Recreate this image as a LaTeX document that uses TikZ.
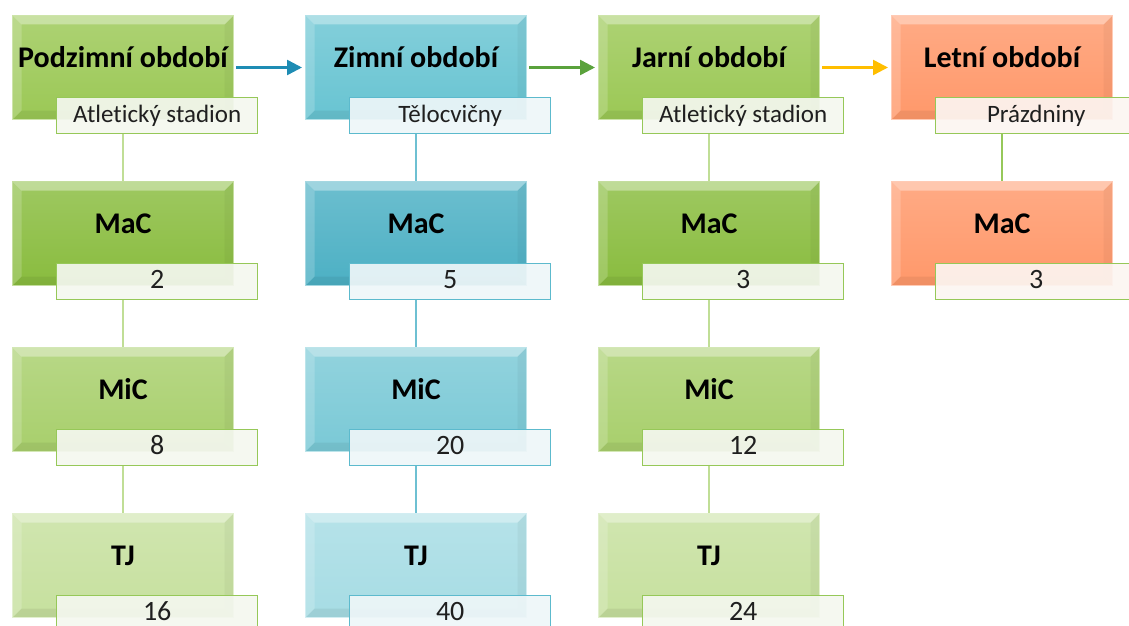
\documentclass[tikz,border=0pt]{standalone}
\usepackage{fontspec}
\setmainfont{Carlito}[Ligatures=NoCommon]
\usetikzlibrary{arrows.meta,calc}
\pgfdeclarelayer{bg}
\pgfsetlayers{bg,main}
\definecolor{g0}{RGB}{155,200,85}
\definecolor{g1}{RGB}{137,188,62}
\definecolor{g2}{RGB}{168,207,108}
\definecolor{g3}{RGB}{198,224,158}
\definecolor{b0}{RGB}{104,196,210}
\definecolor{b1}{RGB}{76,176,196}
\definecolor{b2}{RGB}{122,201,214}
\definecolor{b3}{RGB}{166,220,228}
\definecolor{o0}{RGB}{255,152,106}
\definecolor{gline}{RGB}{192,222,150}
\definecolor{gline2}{RGB}{150,200,90}
\definecolor{bline}{RGB}{110,192,210}
\definecolor{gborder}{RGB}{150,200,88}
\definecolor{bborder}{RGB}{92,186,205}
\definecolor{gfill}{RGB}{244,247,239}
\definecolor{bfill}{RGB}{238,246,248}
\definecolor{ofill}{RGB}{252,245,241}
\definecolor{arrb}{RGB}{30,140,180}
\definecolor{arrg}{RGB}{90,162,60}
\definecolor{arry}{RGB}{255,190,0}
\begin{document}
\begin{tikzpicture}[x=1pt,y=-1pt,
  box/.style={minimum width=221pt,minimum height=104pt,inner sep=0pt,anchor=north west,
    top color=#1!82!white,bottom color=#1,draw=#1!50!white,line width=1pt,
    font=\fontsize{30}{30}\selectfont\bfseries,text height=0pt,text depth=0pt,
    path picture={
      \fill[white,opacity=.35] (path picture bounding box.north west) -- (path picture bounding box.north east)
        -- ([xshift=-9pt,yshift=-9pt]path picture bounding box.north east) -- ([xshift=9pt,yshift=-9pt]path picture bounding box.north west) -- cycle;
      \fill[white,opacity=.18] (path picture bounding box.north west) -- (path picture bounding box.south west)
        -- ([xshift=9pt,yshift=9pt]path picture bounding box.south west) -- ([xshift=9pt,yshift=-9pt]path picture bounding box.north west) -- cycle;
      \fill[black,opacity=.04] (path picture bounding box.north east) -- (path picture bounding box.south east)
        -- ([xshift=-9pt,yshift=9pt]path picture bounding box.south east) -- ([xshift=-9pt,yshift=-9pt]path picture bounding box.north east) -- cycle;
      \fill[black,opacity=.06] (path picture bounding box.south west) -- (path picture bounding box.south east)
        -- ([xshift=-9pt,yshift=9pt]path picture bounding box.south east) -- ([xshift=9pt,yshift=9pt]path picture bounding box.south west) -- cycle;
    }},
  lab/.style={minimum width=201pt,minimum height=36pt,inner sep=0pt,anchor=north west,
    fill opacity=.92,text opacity=1,line width=1.4pt,text=black!88,
    text height=14pt,text depth=0pt},
  labtxt/.style={font=\fontsize{25}{25}\selectfont},
  numtxt/.style={font=\fontsize{28}{28}\selectfont},
  conn/.style={line width=2pt},
  arr/.style={line width=2.5pt,-{Triangle[length=15pt,width=15pt]},shorten <=2pt,shorten >=3pt}
]
\useasboundingbox (0,0) rectangle (1129,626);
% ---------- column 1: Podzimni
\node[box=g0] (p0) at (12,15) {Podzimní období};
\node[lab,fill=gfill,draw=gborder,labtxt] (pl0) at (56,97) {Atletický stadion};
\node[box=g1] (p1) at (12,181) {MaC};
\node[lab,fill=gfill,draw=gborder,numtxt] (pl1) at (56,263) {2};
\node[box=g2] (p2) at (12,347) {MiC};
\node[lab,fill=gfill,draw=gborder,numtxt] (pl2) at (56,429) {8};
\node[box=g3] (p3) at (12,513) {TJ};
\node[lab,fill=gfill,draw=gborder,numtxt] (pl3) at (56,595) {16};
% ---------- column 2: Zimni
\node[box=b0] (z0) at (305,15) {Zimní období};
\node[lab,fill=bfill,draw=bborder,labtxt] (zl0) at (349,97) {Tělocvičny};
\node[box=b1] (z1) at (305,181) {MaC};
\node[lab,fill=bfill,draw=bborder,numtxt] (zl1) at (349,263) {5};
\node[box=b2] (z2) at (305,347) {MiC};
\node[lab,fill=bfill,draw=bborder,numtxt] (zl2) at (349,429) {20};
\node[box=b3] (z3) at (305,513) {TJ};
\node[lab,fill=bfill,draw=bborder,numtxt] (zl3) at (349,595) {40};
% ---------- column 3: Jarni
\node[box=g0] (j0) at (598,15) {Jarní období};
\node[lab,fill=gfill,draw=gborder,labtxt] (jl0) at (642,97) {Atletický stadion};
\node[box=g1] (j1) at (598,181) {MaC};
\node[lab,fill=gfill,draw=gborder,numtxt] (jl1) at (642,263) {3};
\node[box=g2] (j2) at (598,347) {MiC};
\node[lab,fill=gfill,draw=gborder,numtxt] (jl2) at (642,429) {12};
\node[box=g3] (j3) at (598,513) {TJ};
\node[lab,fill=gfill,draw=gborder,numtxt] (jl3) at (642,595) {24};
% ---------- column 4: Letni
\node[box=o0] (l0) at (891,15) {Letní období};
\node[lab,fill=ofill,draw=gborder,labtxt] (ll0) at (935,97) {Prázdniny};
\node[box=o0] (l1) at (891,181) {MaC};
\node[lab,fill=ofill,draw=gborder,numtxt] (ll1) at (935,263) {3};
% ---------- connectors
\begin{pgfonlayer}{bg}
\draw[conn,gline] (pl0.south -| p0.center) -- (p1.north);
\draw[conn,gline] (pl1.south -| p1.center) -- (p2.north);
\draw[conn,gline] (pl2.south -| p2.center) -- (p3.north);
\draw[conn,bline] (zl0.south -| z0.center) -- (z1.north);
\draw[conn,bline] (zl1.south -| z1.center) -- (z2.north);
\draw[conn,bline] (zl2.south -| z2.center) -- (z3.north);
\draw[conn,gline] (jl0.south -| j0.center) -- (j1.north);
\draw[conn,gline] (jl1.south -| j1.center) -- (j2.north);
\draw[conn,gline] (jl2.south -| j2.center) -- (j3.north);
\draw[conn,gline2] (ll0.south -| l0.center) -- (l1.north);
\end{pgfonlayer}
% ---------- arrows
\draw[arr,arrb] (p0.east) -- (z0.west);
\draw[arr,arrg] (z0.east) -- (j0.west);
\draw[arr,arry] (j0.east) -- (l0.west);
\end{tikzpicture}
\end{document}
